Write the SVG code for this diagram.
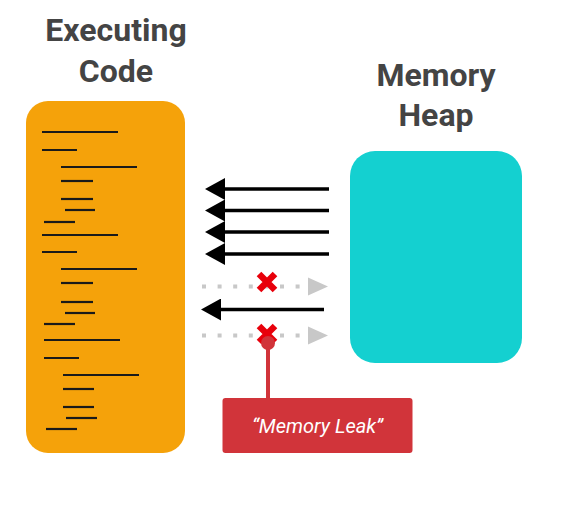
<svg xmlns="http://www.w3.org/2000/svg" width="564" height="516" viewBox="0 0 564 516">
  <style>
    .title { font-family: Roboto, "Liberation Sans", sans-serif; font-weight: bold; font-size: 32px; fill: #444444; text-anchor: middle; }
    .code line { stroke: #1a1a1a; stroke-width: 2.2; }
    .flow { stroke: #000000; stroke-width: 3.5; fill: none; marker-end: url(#blackHead); }
    .blocked { stroke: #c8c8c8; stroke-width: 4; stroke-dasharray: 4 11.6; fill: none; }
    .cross { stroke: #e8000b; stroke-width: 6.5; fill: none; }
    .leak-label { font-family: Roboto, "Liberation Sans", sans-serif; font-style: italic; font-size: 20px; fill: #ffffff; text-anchor: middle; }
  </style>
  <defs>
    <marker id="blackHead" markerUnits="userSpaceOnUse" markerWidth="20" markerHeight="22" refX="0" refY="11" orient="auto" viewBox="0 0 20 22">
      <path d="M0,0 L20,11 L0,22 Z" fill="#000000"/>
    </marker>
  </defs>
  <rect width="564" height="516" fill="#ffffff"/>

  <g id="executing-code">
    <text class="title" x="116" y="41">Executing</text>
    <text class="title" x="116" y="82">Code</text>
    <rect x="26" y="101" width="159" height="352" rx="22" ry="22" fill="#f5a20a"/>
    <g class="code">
      <line x1="42" y1="132" x2="118" y2="132"/>
      <line x1="42" y1="150" x2="77" y2="150"/>
      <line x1="61" y1="167" x2="137" y2="167"/>
      <line x1="61" y1="181" x2="93" y2="181"/>
      <line x1="61" y1="199" x2="93" y2="199"/>
      <line x1="65" y1="210" x2="95" y2="210"/>
      <line x1="44" y1="222" x2="75" y2="222"/>
      <line x1="42" y1="235" x2="118" y2="235"/>
      <line x1="42" y1="252" x2="77" y2="252"/>
      <line x1="61" y1="269" x2="137" y2="269"/>
      <line x1="61" y1="283" x2="93" y2="283"/>
      <line x1="61" y1="302" x2="93" y2="302"/>
      <line x1="65" y1="313" x2="95" y2="313"/>
      <line x1="44" y1="324" x2="75" y2="324"/>
      <line x1="44" y1="340" x2="120" y2="340"/>
      <line x1="44" y1="358" x2="79" y2="358"/>
      <line x1="63" y1="375" x2="139" y2="375"/>
      <line x1="63" y1="389" x2="94" y2="389"/>
      <line x1="63" y1="407" x2="94" y2="407"/>
      <line x1="66" y1="418" x2="97" y2="418"/>
      <line x1="46" y1="429" x2="77" y2="429"/>
    </g>
  </g>

  <g id="memory-heap">
    <text class="title" x="436" y="86">Memory</text>
    <text class="title" x="436" y="126">Heap</text>
    <rect x="350" y="151" width="172" height="212" rx="25" ry="25" fill="#14d0d0"/>
  </g>

  <g id="connectors">
    <line class="flow" x1="329" y1="189" x2="225" y2="189"/>
    <line class="flow" x1="329" y1="210.5" x2="225" y2="210.5"/>
    <line class="flow" x1="329" y1="232" x2="225" y2="232"/>
    <line class="flow" x1="329" y1="254" x2="225" y2="254"/>
    <line class="blocked" x1="202" y1="286.5" x2="308" y2="286.5"/>
    <path d="M308,277.5 L328,286.5 L308,295.5 Z" fill="#c8c8c8"/>
    <line class="flow" x1="324" y1="309.5" x2="221" y2="309.5"/>
    <line class="blocked" x1="202" y1="335.5" x2="308" y2="335.5"/>
    <path d="M308,326.5 L328,335.5 L308,344.5 Z" fill="#c8c8c8"/>
    <path class="cross" d="M259,274 L275,290 M275,274 L259,290"/>
    <path class="cross" d="M259,326 L275,342 M275,326 L259,342"/>
  </g>

  <g id="memory-leak">
    <line x1="268" y1="343" x2="268" y2="400" stroke="#d1343a" stroke-width="4"/>
    <circle cx="268" cy="343" r="7" fill="#d1343a"/>
    <rect x="222.5" y="398" width="190" height="55" rx="3" ry="3" fill="#d1343a"/>
    <text class="leak-label" x="317.5" y="433">“Memory Leak”</text>
  </g>
</svg>
